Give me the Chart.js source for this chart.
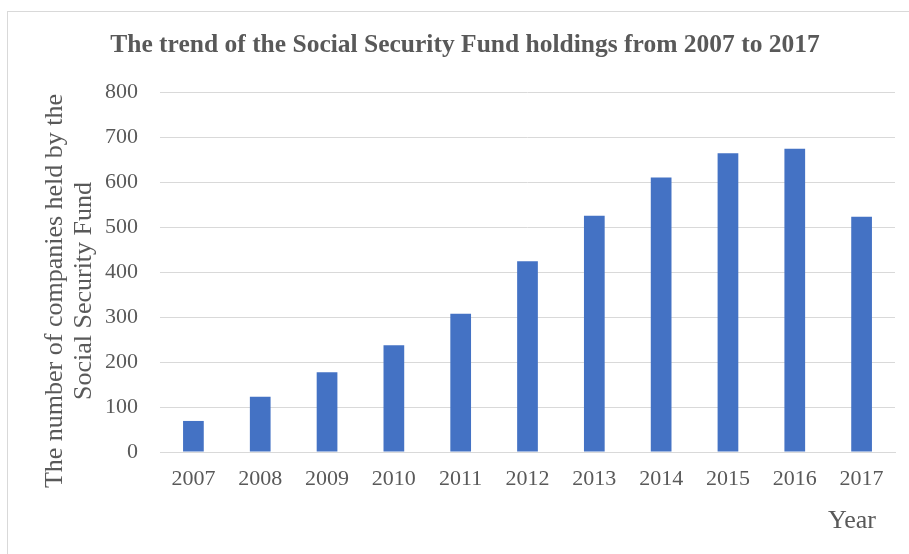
<!DOCTYPE html>
<html>
<head>
<meta charset="utf-8">
<script src="https://cdn.jsdelivr.net/npm/chart.js@4"></script>
<style>
  html, body { margin: 0; padding: 0; background: #fff; overflow: hidden; }
  .frame { position: absolute; left: 7px; top: 11px; width: 1000px; height: 700px; border: 1px solid #d9d9d9; }
  .box { position: absolute; left: 8px; top: 12px; width: 901px; height: 542px; }
</style>
</head>
<body>
<div class="frame"></div>
<div class="box"><canvas id="fundChart"></canvas></div>
<script>
// data
const years = ['2007', '2008', '2009', '2010', '2011', '2012', '2013', '2014', '2015', '2016', '2017'];
const companies = [69, 123, 177, 237, 307, 424, 525, 610, 664, 674, 523];
const yTicks = [0, 100, 200, 300, 400, 500, 600, 700, 800];

const chartTitle = 'The trend of the Social Security Fund holdings from 2007 to 2017';
const yTitle = ['The number of companies held by the', 'Social Security Fund'];
const xTitle = 'Year';

const serif = '"Liberation Serif", "Times New Roman", serif';
const grey = '#595959';

// axis titles are placed like in the original (y title sits lower than the axis middle)
const axisTitles = {
    id: 'axisTitles',
    afterDraw(chart) {
        const ctx = chart.ctx;
        ctx.save();
        ctx.fillStyle = grey;
        ctx.font = '26px ' + serif;
        ctx.textAlign = 'center';
        ctx.textBaseline = 'middle';
        ctx.fillText(xTitle, chart.chartArea.right - 43, 509);
        ctx.translate(0, 279);
        ctx.rotate(-Math.PI / 2);
        yTitle.forEach((line, i) => ctx.fillText(line, 0, 47 + i * 29));
        ctx.restore();
    }
};

Chart.defaults.font.family = serif;
Chart.defaults.color = grey;

new Chart(document.getElementById('fundChart'), {
    type: 'bar',
    data: {
        labels: years,
        datasets: [{
            data: companies,
            backgroundColor: '#4472c4',
            barPercentage: 0.31,
            categoryPercentage: 1
        }]
    },
    options: {
        responsive: true,
        maintainAspectRatio: false,
        animation: false,
        layout: { padding: { left: 27, right: 14, top: 0, bottom: 0 } },
        plugins: {
            legend: { display: false },
            tooltip: { enabled: false },
            title: {
                display: true,
                text: chartTitle,
                color: grey,
                font: { size: 25.5, weight: 'bold', family: serif },
                padding: { top: 17.7, bottom: 31.7 }
            }
        },
        scales: {
            x: {
                grid: { display: false, drawTicks: false },
                border: { color: '#d9d9d9' },
                ticks: { font: { size: 22 }, padding: 14, maxRotation: 0 },
                afterFit(scale) { scale.height = 102; }
            },
            y: {
                min: 0,
                max: 800,
                afterBuildTicks(scale) { scale.ticks = yTicks.map(v => ({ value: v })); },
                grid: { color: '#d9d9d9', drawTicks: false },
                border: { display: false },
                ticks: { font: { size: 22 }, padding: 22 },
                afterFit(scale) { scale.width = 125; }
            }
        }
    },
    plugins: [axisTitles]
});
</script>
</body>
</html>
